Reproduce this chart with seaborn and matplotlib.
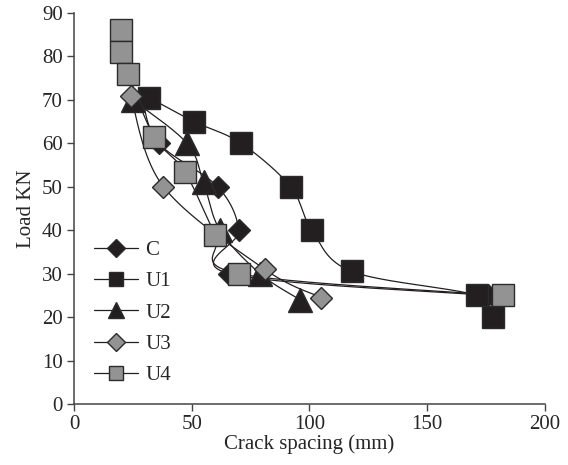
import numpy as np
import matplotlib
matplotlib.use("Agg")
import matplotlib.pyplot as plt
import seaborn as sns
from matplotlib.lines import Line2D

# Crack spacing (mm) and load (kN) for each specimen
c_spacing = [29, 36, 61, 70, 66, 176]
c_load = [70, 60, 50, 40, 30, 25]
u1_spacing = [32, 51, 71, 92, 101, 118, 171, 178]
u1_load = [70.5, 65, 60, 50, 40, 30.5, 25, 20]
u2_spacing = [25, 48, 55, 62, 79, 96]
u2_load = [70, 60, 51, 40, 30, 24]
u3_spacing = [24, 38, 81, 105]
u3_load = [71, 50, 31, 24.5]
u4_spacing = [20, 20, 23, 34, 47, 60, 70, 182]
u4_load = [86, 81, 76, 61.5, 53.5, 39, 30, 25]

labels = ["C", "U1", "U2", "U3", "U4"]
x_ticks = [0, 50, 100, 150, 200]
y_ticks = [0, 10, 20, 30, 40, 50, 60, 70, 80, 90]

DARK = "#231f20"
GRAY = "#939393"
EDGE = "#2b2b2b"

series = [
    (c_spacing, c_load, "D", DARK, 11.5, 9.0),
    (u1_spacing, u1_load, "s", DARK, 15.5, 10.0),
    (u2_spacing, u2_load, "^", DARK, 17.5, 11.5),
    (u3_spacing, u3_load, "D", GRAY, 11.5, 9.0),
    (u4_spacing, u4_load, "s", GRAY, 15.5, 10.0),
]

sns.set_style("ticks")
plt.rcParams["font.family"] = ["Liberation Serif", "DejaVu Serif"]
plt.rcParams["font.size"] = 15


def smooth(xs, ys, sx, sy, n=40):
    """Bezier smoothing through the points (Catmull-Rom style), in screen-like units."""
    P = np.column_stack([np.asarray(xs, float) * sx, np.asarray(ys, float) * sy])
    if len(P) < 3:
        return np.asarray(xs, float), np.asarray(ys, float)
    out = []
    t = np.linspace(0, 1, n)[:, None]
    for i in range(len(P) - 1):
        p0 = P[i - 1] if i > 0 else P[i]
        p1, p2 = P[i], P[i + 1]
        p3 = P[i + 2] if i + 2 < len(P) else P[i + 1]
        c1 = p1 + (p2 - p0) / 6.0
        c2 = p2 - (p3 - p1) / 6.0
        seg = (1 - t) ** 3 * p1 + 3 * (1 - t) ** 2 * t * c1 + 3 * (1 - t) * t ** 2 * c2 + t ** 3 * p2
        out.append(seg if i == 0 else seg[1:])
    pts = np.vstack(out)
    return pts[:, 0] / sx, pts[:, 1] / sy


fig = plt.figure(figsize=(5.68, 4.65), dpi=100)
ax = fig.add_axes([74 / 568, 1 - 404 / 465, 471 / 568, 391 / 465])

sx, sy = 471 / 200.0, 391 / 90.0
for xs, ys, mk, fc, ms, lms in series:
    lx, ly = smooth(xs, ys, sx, sy)
    sns.lineplot(x=lx, y=ly, sort=False, estimator=None, color=DARK, lw=0.9, ax=ax, zorder=2)

for i, (xs, ys, mk, fc, ms, lms) in enumerate(series):
    ax.plot(xs, ys, ls="none", marker=mk, ms=ms, mfc=fc, mec=EDGE, mew=1.0,
            zorder=3 + i, clip_on=False)

ax.set_xlim(0, 200)
ax.set_ylim(0, 90)
ax.set_xticks(x_ticks)
ax.set_yticks(y_ticks)
ax.set_xlabel("Crack spacing (mm)", labelpad=0)
ax.set_ylabel("Load KN", labelpad=4)
ax.tick_params(direction="out", length=5, width=1, color="#444444", pad=3)
sns.despine(ax=ax)
for s in ["left", "bottom"]:
    ax.spines[s].set_color("#444444")
    ax.spines[s].set_linewidth(1.1)

handles = [
    Line2D([], [], color=DARK, lw=0.9, marker=mk, ms=lms, mfc=fc, mec=EDGE, mew=1.0)
    for xs, ys, mk, fc, ms, lms in series
]
ax.legend(handles, labels, loc="upper left", bbox_to_anchor=(0.043, 0.418), frameon=False,
          handlelength=2.1, handletextpad=0.35, labelspacing=0.56, borderpad=0, borderaxespad=0)

fig.savefig("out.png", dpi=100)
